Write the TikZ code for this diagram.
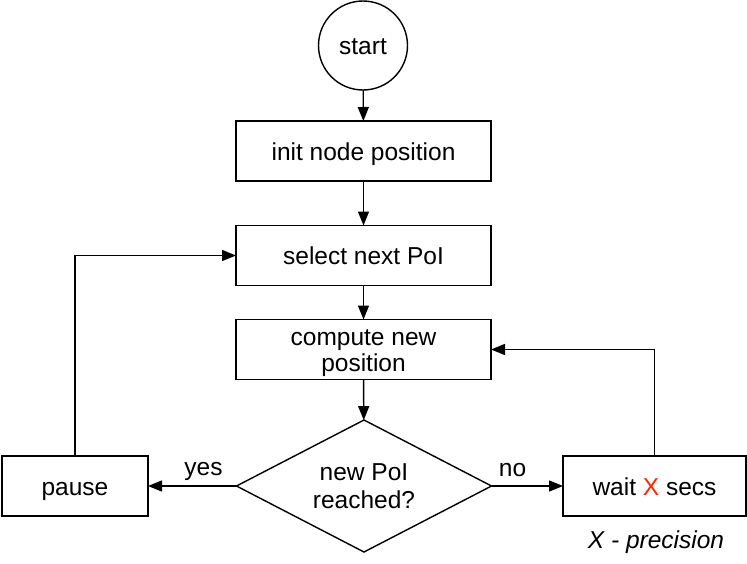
\documentclass[tikz,border=0pt]{standalone}
\usepackage{fontspec}
\setmainfont{Liberation Sans}
\usetikzlibrary{arrows.meta,shapes.geometric}
\definecolor{xred}{RGB}{255,38,0}
\begin{document}
\begin{tikzpicture}[x=1pt,y=-1pt,
  every node/.style={font=\fontsize{24.5}{25.5}\selectfont},
  oneline/.style={text height=24pt,text depth=6pt},
  box/.style={draw,line width=1.4pt,rectangle,inner sep=0pt,outer sep=0pt,minimum width=255pt,minimum height=60pt,align=center},
  conn/.style={line width=1.4pt,-{Triangle[length=14pt,width=11pt]}},
  lbl/.style={inner sep=0pt,anchor=base}]
\useasboundingbox (0,0) rectangle (747,563);
\node[draw,circle,oneline,line width=1.4pt,minimum size=89pt,inner sep=0pt,outer sep=0pt] (start) at (363,45.5) {start};
\node[box,oneline] (init) at (363.5,151) {init node position};
\node[box,oneline] (select) at (363.5,255.5) {select next PoI};
\node[box,text height=49.6pt,text depth=6pt] (compute) at (363.5,349.5) {compute new\\position};
\node[draw,diamond,aspect=1.93,line width=1.4pt,inner sep=0pt,outer sep=0pt,minimum width=255pt,minimum height=132pt,align=center,
  font=\fontsize{24.5}{28}\selectfont,text height=50pt,text depth=6pt] (dec) at (364,486) {new PoI\\reached?};
\node[box,oneline,minimum width=146pt] (pause) at (75,486) {pause};
\node[box,oneline,minimum width=183pt] (wait) at (654.5,486) {wait \textcolor{xred}{X} secs};
\node[lbl] (xprec) at (656,548) {\itshape X - precision};
\node[lbl] (yes) at (203.5,475) {yes};
\node[lbl] (no) at (512.5,476) {no};
\draw[conn] (start) -- (init);
\draw[conn] (init) -- (select);
\draw[conn] (select) -- (compute);
\draw[conn] (compute) -- (dec);
\draw[conn] (dec.west) -- (pause.east);
\draw[conn] (dec.east) -- (wait.west);
\draw[conn] (pause.north) |- (select.west);
\draw[conn] (wait.north) |- (compute.east);
\end{tikzpicture}
\end{document}
